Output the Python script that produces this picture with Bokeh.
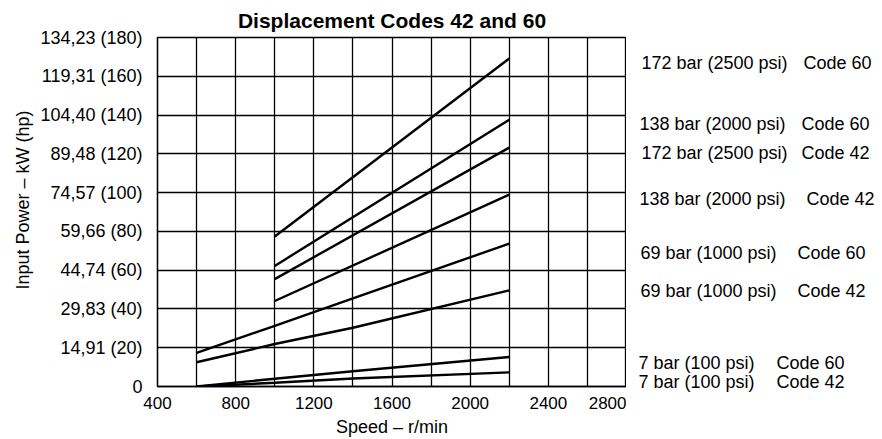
from bokeh.plotting import figure
from bokeh.models import FixedTicker, Range1d, ColumnDataSource, Title
from bokeh.layouts import row
from bokeh.core.properties import value
from bokeh.embed import file_html
from bokeh.resources import INLINE

# Data (speed r/min, input power in hp)
speed_low = [600, 1000, 1400, 2200]
p7_code42 = [0, 1.9, 4.1, 7.3]
p7_code60 = [0, 4.0, 7.9, 15.2]
p69_code42 = [12.5, 21.9, 30.3, 49.6]
p69_code60 = [17.3, 31.3, 45.4, 73.7]

speed_high = [1000, 2200]
p138_code42 = [44.1, 99.0]
p172_code42 = [55.4, 123.2]
p138_code60 = [62.2, 137.6]
p172_code60 = [77.4, 169.2]

series = [p7_code42, p7_code60, p69_code42, p69_code60,
          p138_code42, p172_code42, p138_code60, p172_code60]
series_x = [speed_low] * 4 + [speed_high] * 4

label_pressure = ["7 bar (100 psi)", "7 bar (100 psi)", "69 bar (1000 psi)", "69 bar (1000 psi)",
                  "138 bar (2000 psi)", "172 bar (2500 psi)", "138 bar (2000 psi)", "172 bar (2500 psi)"]
label_code = ["Code 42", "Code 60", "Code 42", "Code 60",
              "Code 42", "Code 42", "Code 60", "Code 60"]
label_y = [2.6, 12.8, 49.7, 69.2, 96.9, 120.5, 134.9, 166.2]

y_ticks = [0, 20, 40, 60, 80, 100, 120, 140, 160, 180]
y_tick_labels = ["0", "14,91 (20)", "29,83 (40)", "44,74 (60)", "59,66 (80)", "74,57 (100)",
                 "89,48 (120)", "104,40 (140)", "119,31 (160)", "134,23 (180)"]
x_ticks = [400, 800, 1200, 1600, 2000, 2400, 2800]
x_grid = [400, 600, 800, 1000, 1200, 1400, 1600, 1800, 2000, 2200, 2400, 2600, 2800]

FONT = "Liberation Sans"
H = 439
TOP, BOTTOM = 36, 52
Y_MIN, Y_MAX = 0, 180

p = figure(width=626, height=H, output_backend="svg", toolbar_location=None,
           x_range=Range1d(400, 2800), y_range=Range1d(Y_MIN, Y_MAX),
           min_border_left=157, min_border_right=0, min_border_top=TOP, min_border_bottom=BOTTOM,
           title="Displacement Codes 42 and 60", frame_align=False)
p.title.text_font = FONT
p.title.text_font_size = "21px"
p.title.text_font_style = "bold"
p.title.text_color = "black"
p.title.align = "center"
p.title.standoff = 12

p.outline_line_color = "black"
p.outline_line_width = 1.3
p.background_fill_color = "white"
p.border_fill_color = "white"

p.xaxis.ticker = FixedTicker(ticks=x_ticks)
p.yaxis.ticker = FixedTicker(ticks=y_ticks)
p.yaxis.major_label_overrides = {t: s for t, s in zip(y_ticks, y_tick_labels)}
p.xgrid.ticker = FixedTicker(ticks=x_grid)
p.ygrid.ticker = FixedTicker(ticks=y_ticks)
for g in (p.xgrid, p.ygrid):
    g.grid_line_color = "black"
    g.grid_line_width = 1.3
    g.grid_line_alpha = 1.0

for ax in (p.xaxis, p.yaxis):
    ax.axis_line_color = "black"
    ax.axis_line_width = 1.3
    ax.major_tick_line_color = None
    ax.minor_tick_line_color = None
    ax.major_tick_out = 0
    ax.major_tick_in = 0
    ax.major_label_text_font = FONT
    ax.major_label_text_color = "black"
    ax.axis_label_text_font = FONT
    ax.axis_label_text_font_size = "18px"
    ax.axis_label_text_font_style = "normal"
    ax.axis_label_text_color = "black"

p.xaxis.major_label_text_font_size = "17px"
p.yaxis.major_label_text_font_size = "18px"
p.xaxis.axis_label = "Speed – r/min"
p.xaxis.major_label_standoff = 10
p.xaxis.axis_label_standoff = 5
p.yaxis.major_label_standoff = 15

# y-axis title as a side title so it can sit slightly above the frame centre
p.add_layout(Title(text="Input Power – kW (hp)", align="left", offset=97, standoff=10,
                   text_font=FONT, text_font_size="18px", text_font_style="normal",
                   text_color="black"), "left")

for xs, ys in zip(series_x, series):
    p.line(xs, ys, line_color="black", line_width=2.4)

# Side panel with the curve labels: same y scale as the chart, frame extended
# down to the bottom of the canvas so the lowest label is not clipped.
frame_h = H - TOP - BOTTOM
y_min_side = Y_MIN - BOTTOM * (Y_MAX - Y_MIN) / frame_h
p2 = figure(width=882 - 626, height=H, output_backend="svg", toolbar_location=None,
            x_range=Range1d(0, 256), y_range=Range1d(y_min_side, Y_MAX),
            x_axis_location=None, y_axis_location=None, frame_align=False,
            min_border_left=0, min_border_right=0, min_border_top=TOP, min_border_bottom=0)
p2.outline_line_color = None
p2.grid.visible = False
p2.background_fill_color = "white"
p2.border_fill_color = "white"

src = ColumnDataSource(dict(y=label_y, pressure=label_pressure, code=label_code,
                            x1=[12, 12, 14, 14, 13, 15, 13, 15],
                            x2=[150, 150, 171, 171, 180, 175, 175, 177]))
p2.text(x="x1", y="y", text="pressure", source=src, text_font=value(FONT),
        text_font_size="18px", text_baseline="middle", text_align="left", text_color="black")
p2.text(x="x2", y="y", text="code", source=src, text_font=value(FONT),
        text_font_size="18px", text_baseline="middle", text_align="left", text_color="black")

layout = row(p, p2, spacing=0)
open("out.html", "w").write(file_html(layout, INLINE))
